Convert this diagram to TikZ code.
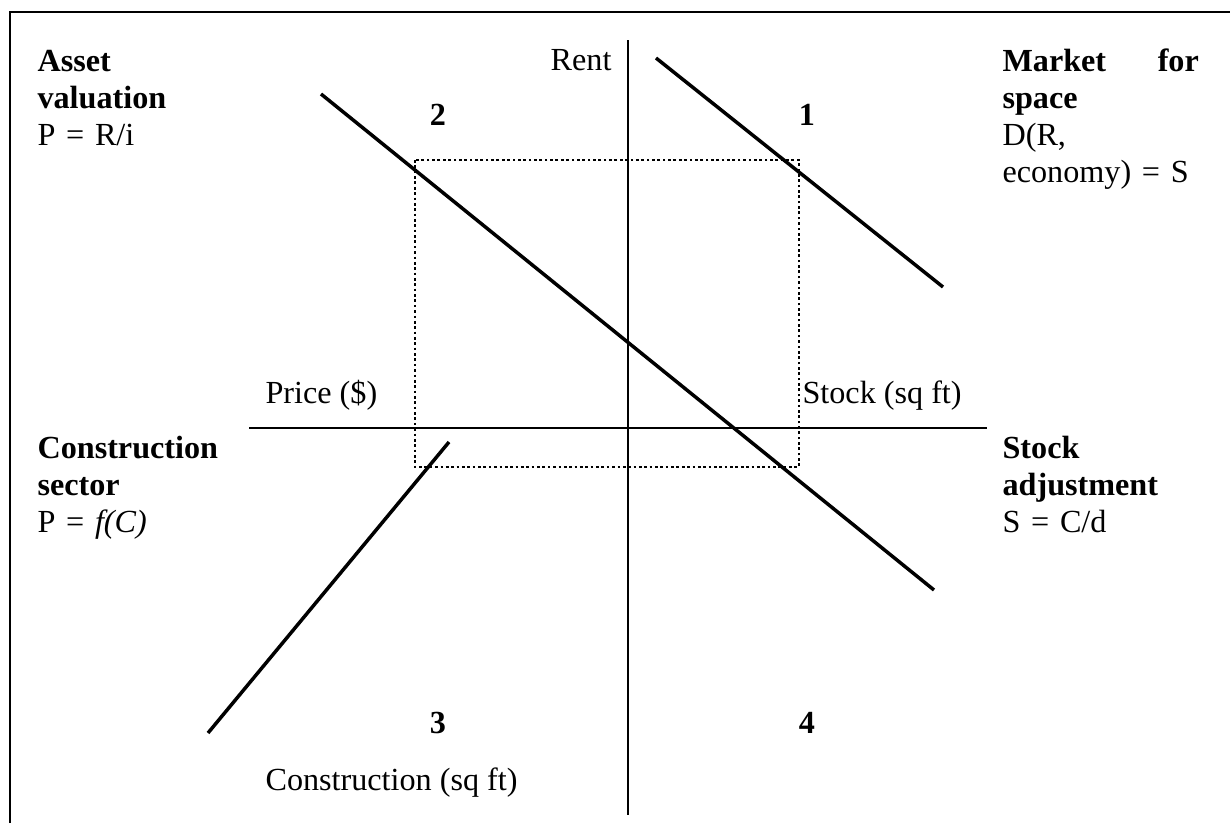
\documentclass[tikz,border=0pt]{standalone}
\usepackage{fontspec}
\setmainfont{Liberation Serif}
\usetikzlibrary{positioning}

\begin{document}
\begin{tikzpicture}[
    x=0.01311cm,
    y=-0.01311cm,
    font=\fontsize{12}{13.8}\selectfont,
    lbl/.style={
        anchor=base west,
        inner sep=0pt
    },
    quad/.style={
        anchor=base,
        inner sep=0pt,
        font=\fontsize{12}{13.8}\selectfont\bfseries
    },
    sector/.style={
        anchor=base west,
        inner sep=0pt,
        align=left,
        text width=73.2pt
    },
    curve/.style={line width=1.3pt},
    axis/.style={line width=0.8pt},
    frame/.style={line width=0.8pt},
    guide/.style={dash pattern=on 1pt off 1pt, line width=0.4pt}
]
\useasboundingbox (0,0) rectangle (1230,823);

% Frame
\coordinate (fl) at (10,823);
\coordinate (tl) at (10,12);
\coordinate (tr) at (1230,12);
\draw[frame] (fl) -- (tl) -- (tr);

% Equilibrium box
\coordinate (box1) at (415,160);
\coordinate (box2) at (799,467);
\draw[guide] (box1) rectangle (box2);

% Axes
\coordinate (ytop) at (628,40);
\coordinate (ybot) at (628,815);
\coordinate (xleft) at (249,428);
\coordinate (xright) at (987,428);
\draw[axis] (ytop) -- (ybot);
\draw[axis] (xleft) -- (xright);

% Curves
\coordinate (d1) at (656,58);
\coordinate (d2) at (943,287);
\coordinate (v1) at (321,94);
\coordinate (v2) at (934,590);
\coordinate (c1) at (449,442);
\coordinate (c2) at (208,733);
\draw[curve] (d1) -- (d2);
\draw[curve] (v1) -- (v2);
\draw[curve] (c1) -- (c2);

% Axis labels
\node[lbl, anchor=base east] (rent) at (612,70) {Rent};
\node[lbl] (price) at (265,403) {Price (\$)};
\node[lbl] (stock) at (802,403) {Stock (sq ft)};
\node[lbl] (constr) at (265,790) {Construction (sq ft)};

% Quadrant numbers
\node[quad] (q1) at (807,125) {1};
\node[quad] (q2) at (438,125) {2};
\node[quad] (q3) at (438,733) {3};
\node[quad] (q4) at (807,733) {4};

% Sector descriptions
\node[sector] (asset) at (37,71) {\textbf{Asset}\\\textbf{valuation}\\P = R/i};
\node[sector] (market) at (1002,71) {\textbf{Market\hfill for}\\\textbf{space}\\D(R,\\economy) = S};
\node[sector] (build) at (37,458) {\textbf{Construction}\\\textbf{sector}\\P = \textit{f(C)}};
\node[sector] (adjust) at (1002,458) {\textbf{Stock}\\\textbf{adjustment}\\S = C/d};

\end{tikzpicture}
\end{document}
